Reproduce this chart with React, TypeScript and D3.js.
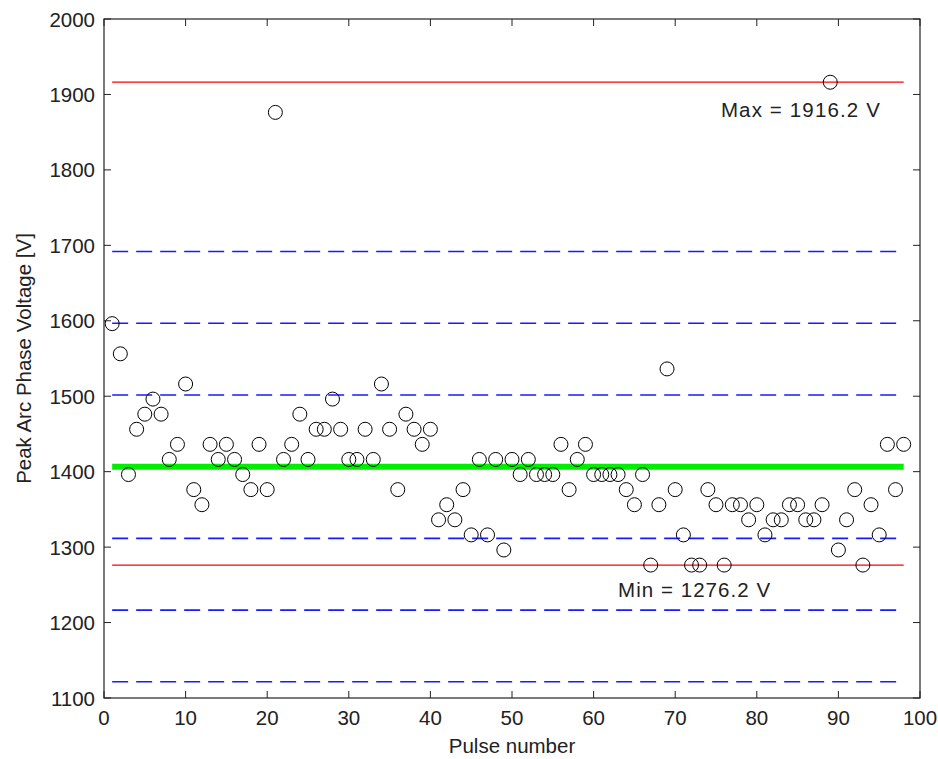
import React from "react";
import * as d3 from "d3";

const pulses: number[] = d3.range(1, 99);
const voltages: number[] = [
  1596.2, 1556.2, 1396.2, 1456.2, 1476.2, 1496.2, 1476.2, 1416.2, 1436.2, 1516.2,
  1376.2, 1356.2, 1436.2, 1416.2, 1436.2, 1416.2, 1396.2, 1376.2, 1436.2, 1376.2,
  1876.2, 1416.2, 1436.2, 1476.2, 1416.2, 1456.2, 1456.2, 1496.2, 1456.2, 1416.2,
  1416.2, 1456.2, 1416.2, 1516.2, 1456.2, 1376.2, 1476.2, 1456.2, 1436.2, 1456.2,
  1336.2, 1356.2, 1336.2, 1376.2, 1316.2, 1416.2, 1316.2, 1416.2, 1296.2, 1416.2,
  1396.2, 1416.2, 1396.2, 1396.2, 1396.2, 1436.2, 1376.2, 1416.2, 1436.2, 1396.2,
  1396.2, 1396.2, 1396.2, 1376.2, 1356.2, 1396.2, 1276.2, 1356.2, 1536.2, 1376.2,
  1316.2, 1276.2, 1276.2, 1376.2, 1356.2, 1276.2, 1356.2, 1356.2, 1336.2, 1356.2,
  1316.2, 1336.2, 1336.2, 1356.2, 1356.2, 1336.2, 1336.2, 1356.2, 1916.2, 1296.2,
  1336.2, 1376.2, 1276.2, 1356.2, 1316.2, 1436.2, 1376.2, 1436.2,
];
const xTicks: number[] = d3.range(0, 101, 10);
const yTicks: number[] = d3.range(1100, 2001, 100);
const sigmaLevels: number[] = [-3, -2, -1, 1, 2, 3];

const W = 938;
const H = 759;
const M = { left: 104, right: 920, top: 19, bottom: 698 };
const FONT = "'Liberation Sans', Arial, sans-serif";
const FS = 20.5;
const TICK = 7;

export default function App() {
  const x = d3.scaleLinear().domain([0, 100]).range([M.left, M.right]);
  const y = d3.scaleLinear().domain([1100, 2000]).range([M.bottom, M.top]);
  const mean = d3.mean(voltages) as number;
  const sd = d3.deviation(voltages) as number;
  const vMax = d3.max(voltages) as number;
  const vMin = d3.min(voltages) as number;
  const x0 = pulses[0];
  const x1 = pulses[pulses.length - 1];

  return (
    <svg
      width={W}
      height={H}
      style={{ position: "absolute", left: 0, top: 0, background: "#fff" }}
      fontFamily={FONT}
    >
      <rect x={0} y={0} width={W} height={H} fill="#fff" />
      {/* sigma lines */}
      {sigmaLevels.map((k) => (
        <line
          key={k}
          x1={x(x0)}
          x2={x(x1)}
          y1={y(mean + k * sd)}
          y2={y(mean + k * sd)}
          stroke="#1a1aff"
          strokeWidth={1.6}
          strokeDasharray="16,8"
        />
      ))}
      {/* max/min */}
      <line x1={x(x0)} x2={x(x1)} y1={y(vMax)} y2={y(vMax)} stroke="#ff0000" strokeWidth={1.2} />
      <line x1={x(x0)} x2={x(x1)} y1={y(vMin)} y2={y(vMin)} stroke="#ff0000" strokeWidth={1.2} />
      {/* mean */}
      <line x1={x(x0)} x2={x(x1)} y1={y(mean)} y2={y(mean)} stroke="#00ee00" strokeWidth={6} />
      {/* points */}
      {voltages.map((v, i) => (
        <circle
          key={i}
          cx={x(pulses[i])}
          cy={y(v)}
          r={7}
          fill="none"
          stroke="#000"
          strokeWidth={1}
        />
      ))}
      {/* annotations */}
      <text x={x(75.6)} y={y(vMax) + 35} fontSize={FS} fill="#222" textLength={159} lengthAdjust="spacing">
        {`Max = ${vMax.toFixed(1)} V`}
      </text>
      <text x={x(63.0)} y={y(vMin) + 32} fontSize={FS} fill="#222" textLength={152} lengthAdjust="spacing">
        {`Min = ${vMin.toFixed(1)} V`}
      </text>
      {/* frame */}
      <rect
        x={M.left}
        y={M.top}
        width={M.right - M.left}
        height={M.bottom - M.top}
        fill="none"
        stroke="#222"
        strokeWidth={1.2}
      />
      {xTicks.map((t) => (
        <g key={"x" + t}>
          <line x1={x(t)} x2={x(t)} y1={M.bottom} y2={M.bottom - TICK} stroke="#222" />
          <line x1={x(t)} x2={x(t)} y1={M.top} y2={M.top + TICK} stroke="#222" />
          <text x={x(t)} y={725} fontSize={FS} textAnchor="middle" fill="#222">
            {t}
          </text>
        </g>
      ))}
      {yTicks.map((t) => (
        <g key={"y" + t}>
          <line x1={M.left} x2={M.left + TICK} y1={y(t)} y2={y(t)} stroke="#222" />
          <line x1={M.right} x2={M.right - TICK} y1={y(t)} y2={y(t)} stroke="#222" />
          <text x={95} y={y(t) + 7.5} fontSize={FS} textAnchor="end" fill="#222">
            {t}
          </text>
        </g>
      ))}
      <text x={(M.left + M.right) / 2} y={753} fontSize={FS} textAnchor="middle" fill="#222">
        Pulse number
      </text>
      <text
        transform={`translate(31, ${(M.top + M.bottom) / 2}) rotate(-90)`}
        fontSize={FS}
        textAnchor="middle"
        fill="#222"
      >
        Peak Arc Phase Voltage [V]
      </text>
    </svg>
  );
}
